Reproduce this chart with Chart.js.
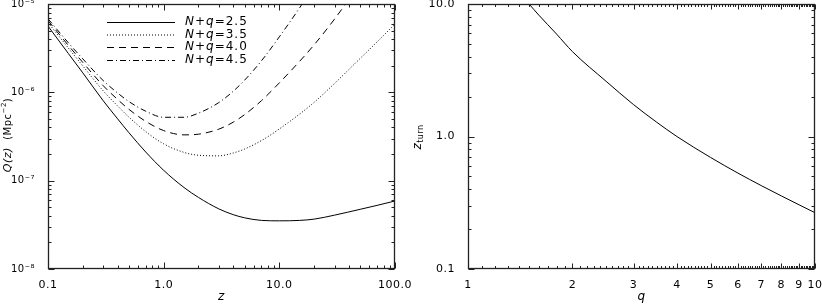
<!DOCTYPE html>
<html>
<head>
<meta charset="utf-8">
<script src="https://cdn.jsdelivr.net/npm/chart.js@4.4.0/dist/chart.umd.min.js"></script>
<style>
  body { margin: 0; background: #fff; }
  #wrap { position: relative; width: 822px; height: 304px; overflow: hidden; }
  canvas { position: absolute; top: 0; }
  #leftChart { left: 0; }
  #rightChart { left: 410px; }
</style>
</head>
<body>
<div id="wrap">
  <canvas id="leftChart" width="430" height="304"></canvas>
  <canvas id="rightChart" width="412" height="304"></canvas>
</div>
<script>
// Left panel: Q(z) for four values of N+q
var redshift = [0.1, 0.15, 0.2, 0.3, 0.4, 0.5, 0.7, 1, 1.5, 2, 3, 4, 5, 7, 10, 15, 20, 30, 50, 70, 100];

var qN25 = [5.62e-6, 2.75e-6, 1.66e-6, 8.04e-7, 5.01e-7, 3.50e-7, 2.11e-7, 1.31e-7, 8.36e-8, 6.46e-8, 4.79e-8,
            4.12e-8, 3.80e-8, 3.55e-8, 3.51e-8, 3.55e-8, 3.67e-8, 4.07e-8, 4.74e-8, 5.25e-8, 5.89e-8];

var qN35 = [6.18e-6, 3.17e-6, 1.99e-6, 1.04e-6, 7.01e-7, 5.25e-7, 3.59e-7, 2.61e-7, 2.09e-7, 1.94e-7, 1.91e-7,
            2.06e-7, 2.28e-7, 2.84e-7, 3.85e-7, 5.68e-7, 7.71e-7, 1.26e-6, 2.42e-6, 3.72e-6, 5.94e-6];

var qN40 = [6.49e-6, 3.40e-6, 2.18e-6, 1.19e-6, 8.30e-7, 6.43e-7, 4.69e-7, 3.69e-7, 3.30e-7, 3.36e-7, 3.83e-7,
            4.60e-7, 5.58e-7, 8.04e-7, 1.28e-6, 2.25e-6, 3.45e-6, 6.75e-6, 1.70e-5, 3.14e-5, 5.97e-5];

var qN45 = [6.81e-6, 3.64e-6, 2.39e-6, 1.36e-6, 9.82e-7, 7.87e-7, 6.11e-7, 5.22e-7, 5.22e-7, 5.81e-7, 7.66e-7,
            1.03e-6, 1.37e-6, 2.27e-6, 4.25e-6, 9.08e-6, 1.62e-5, 3.92e-5, 1.23e-4, 2.65e-4, 6.01e-4];

var seriesLabels = ['N+q=2.5', 'N+q=3.5', 'N+q=4.0', 'N+q=4.5'];

var zTicks = [0.1, 1, 10, 100];
var zTickLabels = ['0.1', '1.0', '10.0', '100.0'];
var qTicks = [1e-8, 1e-7, 1e-6, 1e-5];
var qTickLabels = ['10\u207B\u2078', '10\u207B\u2077', '10\u207B\u2076', '10\u207B\u2075'];

// Right panel: z_turn against q
var qIndex = [1.5, 1.6, 1.8, 2, 2.5, 3, 3.5, 4, 5, 6, 7, 8, 9, 10];
var zTurn = [10.0, 8.24, 5.93, 4.37, 2.61, 1.74, 1.28, 1.0, 0.695, 0.529, 0.426, 0.356, 0.305, 0.266];

var indexTicks = [1, 2, 3, 4, 5, 6, 7, 8, 9, 10];
var turnTicks = [0.1, 1, 10];
var turnTickLabels = ['0.1', '1.0', '10.0'];

var FONT = 'DejaVu Sans';

function decadeMinors(lo, hi)
{
  var out = [];
  for (var d = lo; d < hi * 0.99; d *= 10)
  {
    for (var k = 2; k <= 9; k++) out.push(d * k);
  }
  return out;
}

function tenthMinors(lo, hi)
{
  var out = [];
  for (var i = lo * 10 + 1; i < hi * 10; i++)
  {
    if (i % 10 !== 0) out.push(i / 10);
  }
  return out;
}

function points(xs, ys)
{
  return xs.map(function (x, i) { return { x: x, y: ys[i] }; });
}

function drawPieces(ctx, pieces, x, y, rotate, center, spacing)
{
  ctx.save();
  ctx.translate(x, y);
  if (rotate) ctx.rotate(-Math.PI / 2);
  ctx.textBaseline = 'middle';
  ctx.textAlign = 'left';
  ctx.fillStyle = '#000';
  ctx.letterSpacing = spacing || '1px';
  var total = 0;
  pieces.forEach(function (p) { ctx.font = p.font; p.w = ctx.measureText(p.t).width; total += p.w; });
  var cx = center ? -total / 2 : 0;
  pieces.forEach(function (p) { ctx.font = p.font; ctx.fillText(p.t, cx, p.dy || 0); cx += p.w; });
  ctx.restore();
}

// Box frame with inward ticks on all four sides
var frameTicks = {
  id: 'frameTicks',
  beforeDraw: function (chart) {
    chart.ctx.letterSpacing = '0.5px';
  },
  afterDraw: function (chart, args, opts) {
    var ctx = chart.ctx;
    var a = chart.chartArea;
    var xs = chart.scales.x;
    var ys = chart.scales.y;
    var L = Math.round(a.left) + 0.5, R = Math.round(a.right) - 0.5;
    var T = Math.round(a.top) + 0.5, B = Math.round(a.bottom) - 0.5;

    ctx.save();
    ctx.strokeStyle = '#222';
    ctx.lineWidth = 1;
    ctx.setLineDash([]);
    ctx.beginPath();

    function xTick(v, len)
    {
      var p = Math.round(xs.getPixelForValue(v)) + 0.5;
      ctx.moveTo(p, B); ctx.lineTo(p, B - len);
      ctx.moveTo(p, T); ctx.lineTo(p, T + len);
    }

    function yTick(v, len)
    {
      var p = Math.round(ys.getPixelForValue(v)) + 0.5;
      ctx.moveTo(L, p); ctx.lineTo(L + len, p);
      ctx.moveTo(R, p); ctx.lineTo(R - len, p);
    }

    opts.xMajor.forEach(function (v) { xTick(v, opts.xMajorLen); });
    opts.xMinor.forEach(function (v) { xTick(v, opts.xMinorLen); });
    opts.yMajor.forEach(function (v) { yTick(v, opts.yMajorLen); });
    opts.yMinor.forEach(function (v) { yTick(v, opts.yMinorLen); });
    ctx.stroke();

    ctx.lineWidth = 1.3;
    ctx.strokeRect(L, T, R - L, B - T);
    ctx.restore();
  }
};

// Legend inside the left panel
var insideLegend = {
  id: 'insideLegend',
  afterDraw: function (chart) {
    var ctx = chart.ctx;
    var a = chart.chartArea;
    var rowY = [22, 34.5, 47, 60];

    chart.data.datasets.forEach(function (ds, i) {
      ctx.save();
      ctx.strokeStyle = '#000';
      ctx.lineWidth = ds.borderWidth;
      ctx.setLineDash(ds.borderDash || []);
      ctx.beginPath();
      ctx.moveTo(a.left + 59, rowY[i] + 0.5);
      ctx.lineTo(a.left + 127, rowY[i] + 0.5);
      ctx.stroke();
      ctx.restore();

      var rest = ds.label.slice(3);
      drawPieces(ctx, [
        { t: 'N', font: 'italic 12px ' + FONT },
        { t: '+', font: '12px ' + FONT },
        { t: 'q', font: 'italic 12px ' + FONT },
        { t: rest, font: '12px ' + FONT }
      ], a.left + 137, rowY[i], false, false);
    });

    // y axis title
    drawPieces(ctx, [
      { t: 'Q(z)', font: 'italic 11px ' + FONT },
      { t: '  (Mpc', font: '10px ' + FONT },
      { t: '\u22122', font: '7px ' + FONT, dy: -4 },
      { t: ')', font: '10px ' + FONT }
    ], 8, 135, true, true, '0.5px');
  }
};

var rightTitle = {
  id: 'rightTitle',
  afterDraw: function (chart) {
    drawPieces(chart.ctx, [
      { t: 'z', font: 'italic 12px ' + FONT },
      { t: 'turn', font: '8px ' + FONT, dy: 3 }
    ], 8, 137, true, true, '0.5px');
  }
};

function logAxis(min, max, ticks, labels, extra)
{
  var axis = {
    type: 'logarithmic',
    min: min,
    max: max,
    afterBuildTicks: function (scale) {
      scale.ticks = ticks.map(function (v) { return { value: v }; });
    },
    ticks: {
      autoSkip: false,
      maxRotation: 0,
      color: '#000',
      font: { family: FONT, size: 11 },
      callback: function (value) {
        var k = ticks.indexOf(value);
        return k >= 0 ? labels[k] : '';
      }
    },
    grid: { display: false },
    border: { display: false }
  };
  return Object.assign(axis, extra);
}

// fixed axis boxes, no extra room for edge labels
function fixX(h)
{
  return function (scale) {
    scale.height = h;
    scale.paddingLeft = 0;
    scale.paddingRight = 0;
  };
}

function fixY(w)
{
  return function (scale) {
    scale.width = w;
    scale.paddingTop = 0;
    scale.paddingBottom = 0;
  };
}

function lineSet(label, xs, ys, dash)
{
  return {
    label: label,
    data: points(xs, ys),
    borderColor: '#000',
    borderWidth: 1,
    borderDash: dash,
    pointRadius: 0,
    fill: false,
    cubicInterpolationMode: 'monotone'
  };
}

// Create left chart
var leftXAxis = logAxis(0.1, 100, zTicks, zTickLabels, {
  title: { display: true, text: 'z', color: '#000', font: { family: FONT, size: 12, style: 'italic' }, padding: 0 },
  afterFit: fixX(35)
});
leftXAxis.ticks.padding = 2;

var leftYAxis = logAxis(1e-8, 1e-5, qTicks, qTickLabels, { afterFit: fixY(48) });
leftYAxis.ticks.padding = 5;
leftYAxis.ticks.font = { family: FONT, size: 10 };

var leftChart = new Chart(document.getElementById('leftChart'), {

  type: 'line',

  data: {
    datasets: [
      lineSet(seriesLabels[0], redshift, qN25, []),
      lineSet(seriesLabels[1], redshift, qN35, [1, 2]),
      lineSet(seriesLabels[2], redshift, qN40, [7, 5]),
      lineSet(seriesLabels[3], redshift, qN45, [6, 3, 1, 3])
    ]
  },

  options: {
    responsive: false,
    animation: false,
    layout: { padding: { left: 0, top: 4, right: 35, bottom: 0 } },
    scales: { x: leftXAxis, y: leftYAxis },
    plugins: {
      legend: { display: false },
      tooltip: { enabled: false },
      frameTicks: {
        xMajor: zTicks, xMinor: decadeMinors(0.1, 100), xMajorLen: 6, xMinorLen: 3,
        yMajor: qTicks, yMinor: decadeMinors(1e-8, 1e-5), yMajorLen: 6, yMinorLen: 3
      }
    }
  },

  plugins: [frameTicks, insideLegend]
});

// Create right chart
var rightXAxis = logAxis(1, 10, indexTicks, indexTicks.map(String), {
  title: { display: true, text: 'q', color: '#000', font: { family: FONT, size: 12, style: 'italic' }, padding: 0 },
  afterFit: fixX(35)
});
rightXAxis.ticks.padding = 2;

var rightYAxis = logAxis(0.1, 10, turnTicks, turnTickLabels, { afterFit: fixY(58) });
rightYAxis.ticks.padding = 5;

var rightChart = new Chart(document.getElementById('rightChart'), {

  type: 'line',

  data: {
    datasets: [ lineSet('z_turn', qIndex, zTurn, []) ]
  },

  options: {
    responsive: false,
    animation: false,
    layout: { padding: { left: 0, top: 4, right: 7, bottom: 0 } },
    scales: { x: rightXAxis, y: rightYAxis },
    plugins: {
      legend: { display: false },
      tooltip: { enabled: false },
      frameTicks: {
        xMajor: indexTicks, xMinor: tenthMinors(1, 10), xMajorLen: 5, xMinorLen: 2.5,
        yMajor: turnTicks, yMinor: decadeMinors(0.1, 10), yMajorLen: 6, yMinorLen: 3
      }
    }
  },

  plugins: [frameTicks, rightTitle]
});
</script>
</body>
</html>
